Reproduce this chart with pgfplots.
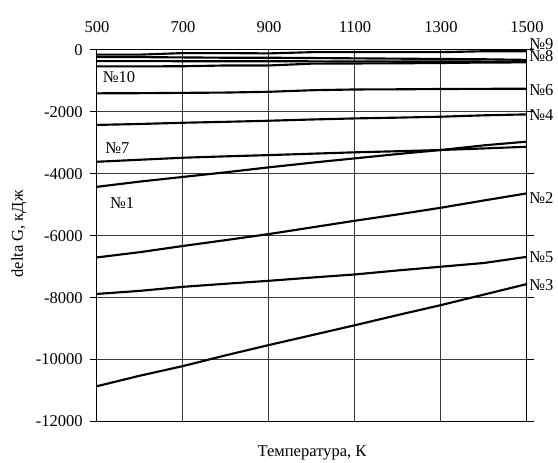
\documentclass[border=0pt]{standalone}
\usepackage{fontspec}
\setmainfont{Liberation Serif}
\usepackage{pgfplots}
\pgfplotsset{compat=1.18}
\newcommand{\fs}{\fontsize{12.4pt}{14pt}\selectfont}
\pgfplotstableread{
T A B C D S6 S4 S7 S1 S2 S5 S3
500 -150 -230 -360 -530 -1400 -2420 -3610 -4420 -6700 -7880 -10860
600 -150 -230 -360 -530 -1395 -2390 -3545 -4250 -6530 -7780 -10520
700 -100 -240 -362 -525 -1385 -2350 -3480 -4100 -6330 -7650 -10210
800 -100 -250 -362 -500 -1375 -2320 -3435 -3950 -6140 -7550 -9860
900 -110 -250 -364 -500 -1350 -2285 -3395 -3790 -5945 -7455 -9530
1000 -70 -260 -366 -440 -1300 -2245 -3350 -3640 -5730 -7350 -9210
1100 -70 -270 -368 -435 -1275 -2210 -3305 -3500 -5515 -7250 -8890
1200 -70 -280 -370 -430 -1270 -2185 -3270 -3360 -5310 -7120 -8560
1300 -70 -290 -372 -420 -1260 -2155 -3230 -3230 -5095 -7000 -8240
1400 -40 -300 -374 -405 -1255 -2110 -3180 -3080 -4860 -6880 -7900
1500 -40 -320 -375 -400 -1250 -2080 -3125 -2960 -4630 -6680 -7560
}\data
\begin{document}
\begin{tikzpicture}[font=\fs]
\useasboundingbox (-72.75pt,-31.125pt) rectangle (345.75pt,316.125pt);
\begin{axis}[
  at={(0pt,0pt)}, anchor=south west,
  scale only axis, width=322.5pt, height=278.625pt,
  xmin=500, xmax=1500, ymin=-12000, ymax=0,
  xtick={500,700,...,1500},
  ytick={-12000,-10000,...,0},
  xticklabel pos=upper,
  scaled y ticks=false, scaled x ticks=false,
  /pgf/number format/1000 sep={},
  /pgf/number format/assume math mode=true,
  tick align=outside,
  major tick length=5.25pt,
  xtick style={draw=none},
  ytick style={black, line width=0.75pt},
  grid=major,
  major grid style={black!78, line width=0.75pt},
  axis line style={black, line width=0.75pt},
  ticklabel style={font=\fs},
  yticklabel style={anchor=east, inner sep=0pt, xshift=-5.25pt},
  xticklabel style={anchor=base, inner sep=0pt, yshift=8pt},
  xlabel={Температура, К},
  ylabel={delta G, кДж},
  xlabel style={font=\fs, at={(axis description cs:0.5,0)}, anchor=base, yshift=-26.25pt},
  ylabel style={font=\fs, at={(axis description cs:-0.1721,0.5047)}, anchor=base},
  clip=false,
  no markers,
  every axis plot post/.style={black, solid, line width=1.6pt, mark=none},
]
\addplot table[x=T,y=A] {\data};
\addplot table[x=T,y=B] {\data};
\addplot table[x=T,y=C] {\data};
\addplot table[x=T,y=D] {\data};
\addplot table[x=T,y=S6] {\data};
\addplot table[x=T,y=S4] {\data};
\addplot table[x=T,y=S7] {\data};
\addplot table[x=T,y=S1] {\data};
\addplot table[x=T,y=S2] {\data};
\addplot table[x=T,y=S5] {\data};
\addplot table[x=T,y=S3] {\data};
\begin{scope}[every node/.style={anchor=west, inner sep=0pt, font=\fs}]
\node at (axis cs:1504.7,178) {№9};
\node at (axis cs:1504.7,-194) {№8};
\node at (axis cs:1504.7,-1292) {№6};
\node at (axis cs:1504.7,-2100) {№4};
\node at (axis cs:1504.7,-4766) {№2};
\node at (axis cs:1504.7,-6704) {№5};
\node at (axis cs:1504.7,-7593) {№3};
\node at (axis cs:513,-872) {№10};
\node at (axis cs:518.6,-3177) {№7};
\node at (axis cs:530,-4943) {№1};
\end{scope}
\end{axis}
\end{tikzpicture}
\end{document}
